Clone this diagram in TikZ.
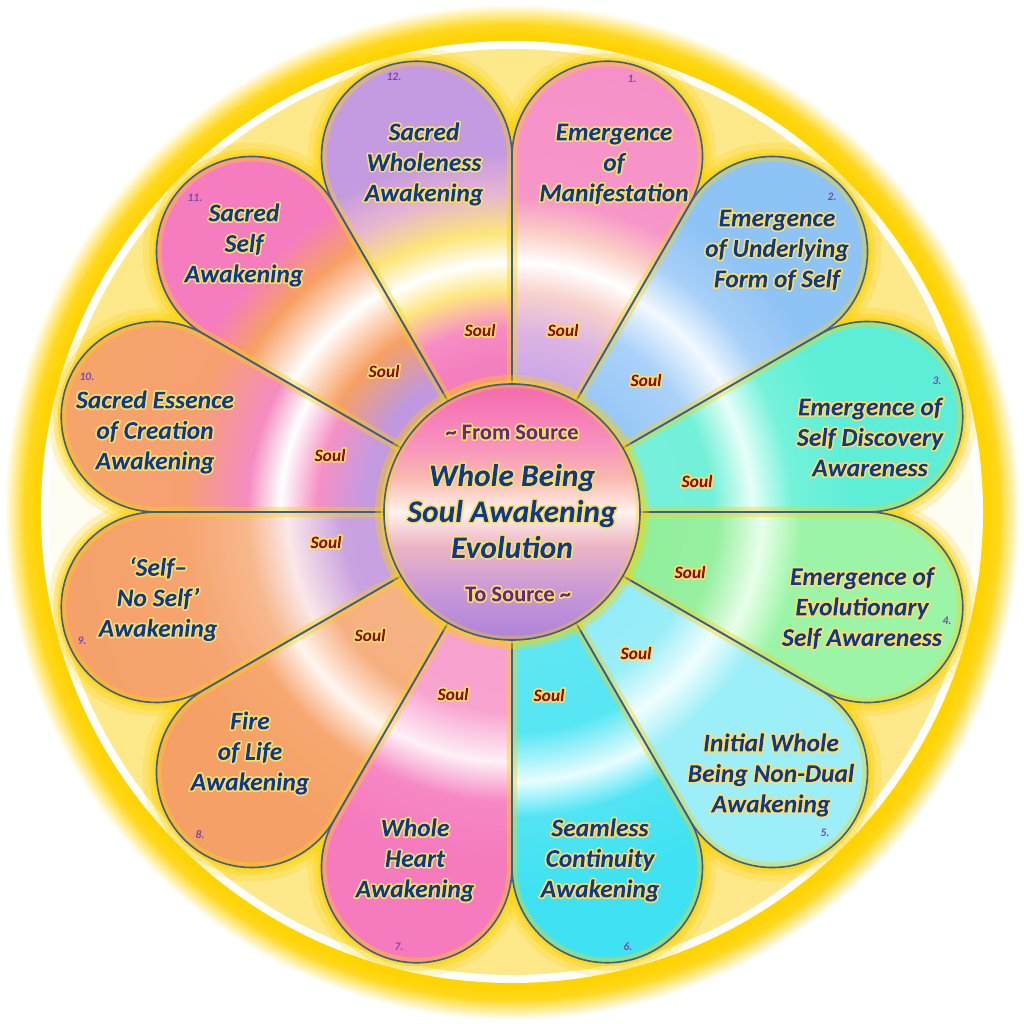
\documentclass[tikz,border=0pt]{standalone}
\usepackage{fontspec}
\setmainfont{Carlito}
\newcommand\dc[2]{\definecolor{#1}{HTML}{#2}}
\dc{gold}{FFD200}\dc{edgec}{3A5E8E}\dc{labc}{0B3A8E}\dc{soulc}{8A0F12}
\dc{numc}{7E48B0}\dc{ctrc}{5E2B8C}
\dc{pAa}{C9A5EA}\dc{pAb}{DCB4E2}\dc{pAc}{F8D2CC}\dc{pAd}{FAD0C6}\dc{pAe}{F796C8}\dc{pAf}{F590C8}
\dc{pBa}{96C6F6}\dc{pBb}{AAD2FA}\dc{pBc}{F2F8FF}\dc{pBd}{A8D0F8}\dc{pBe}{8EC3F6}
\dc{pCa}{78F0DC}\dc{pCb}{72F0D8}\dc{pCc}{E6FFF8}\dc{pCd}{74F2DA}\dc{pCe}{5EEED8}
\dc{pDa}{90EE9A}\dc{pDb}{96F0A0}\dc{pDc}{E8FFEA}\dc{pDd}{9CF4A6}
\dc{pEa}{92ECF8}\dc{pEb}{9AEEF8}\dc{pEc}{F0FEFF}\dc{pEd}{9CEFF8}
\dc{pFa}{60E6F2}\dc{pFb}{56E6F4}\dc{pFc}{E8FDFF}\dc{pFd}{52E4F4}\dc{pFe}{3EE2F2}
\dc{pGa}{F7A2CE}\dc{pGb}{F8A4D0}\dc{pGc}{FDF0F6}\dc{pGd}{F688C4}\dc{pGe}{F57BBE}
\dc{pHa}{F5B384}\dc{pHb}{F6B080}\dc{pHc}{FFF6F0}\dc{pHd}{F6A870}\dc{pHe}{F5A066}
\dc{pIa}{C6A0E2}\dc{pIb}{C9A2E0}\dc{pIc}{FBE8E8}\dc{pId}{F7B88C}\dc{pIe}{F6A470}\dc{pIf}{F5A068}
\dc{pJa}{C098E0}\dc{pJb}{C59AE0}\dc{pJc}{F590C4}\dc{pJd}{F58CC2}\dc{pJe}{F6A070}\dc{pJf}{F5A66A}
\dc{pKa}{C197E0}\dc{pKb}{F7A063}\dc{pKc}{F57DBF}
\dc{pLa}{F47FBE}\dc{pLb}{F68CC6}\dc{pLc}{FDE680}\dc{pLd}{FCE67A}\dc{pLe}{E6B4D2}\dc{pLf}{C49AE0}
\dc{cA}{AE82DA}\dc{cB}{C898D8}\dc{cC}{ECB4C4}\dc{cD}{FFF2EA}\dc{cE}{F9B8B0}\dc{cF}{F890BE}\dc{cG}{F36AAE}
\dc{by}{FDE88A}\dc{bw}{FFFCF2}
\dc{go}{FFD400}\dc{gB}{FFD820}\dc{gC}{FFEC90}
\pgfdeclareradialshading{pA}{\pgfpointorigin}{color(0bp)=(pAa); color(6.67bp)=(pAa); color(9.38bp)=(pAb); color(11.46bp)=(pAc); color(13.02bp)=(white); color(14.58bp)=(pAd); color(16.41bp)=(pAe); color(25bp)=(pAf); color(50bp)=(pAf)}
\pgfdeclareradialshading{pB}{\pgfpointorigin}{color(0bp)=(pBa); color(6.67bp)=(pBa); color(10.42bp)=(pBb); color(12.76bp)=(pBc); color(14.84bp)=(pBd); color(17.7bp)=(pBe); color(50bp)=(pBe)}
\pgfdeclareradialshading{pC}{\pgfpointorigin}{color(0bp)=(pCa); color(6.67bp)=(pCa); color(10.42bp)=(pCb); color(12.5bp)=(pCc); color(14.58bp)=(pCd); color(17.7bp)=(pCe); color(50bp)=(pCe)}
\pgfdeclareradialshading{pD}{\pgfpointorigin}{color(0bp)=(pDa); color(6.67bp)=(pDa); color(10.68bp)=(pDb); color(13.02bp)=(pDc); color(15.1bp)=(pDd); color(50bp)=(pDd)}
\pgfdeclareradialshading{pE}{\pgfpointorigin}{color(0bp)=(pEa); color(6.67bp)=(pEa); color(9.9bp)=(pEb); color(12.24bp)=(pEc); color(14.32bp)=(pEd); color(50bp)=(pEd)}
\pgfdeclareradialshading{pF}{\pgfpointorigin}{color(0bp)=(pFa); color(6.67bp)=(pFa); color(11.46bp)=(pFb); color(14.06bp)=(pFc); color(15.9bp)=(pFd); color(20bp)=(pFe); color(50bp)=(pFe)}
\pgfdeclareradialshading{pG}{\pgfpointorigin}{color(0bp)=(pGa); color(6.67bp)=(pGa); color(10.42bp)=(pGb); color(13.02bp)=(pGc); color(15.1bp)=(pGd); color(18bp)=(pGe); color(50bp)=(pGe)}
\pgfdeclareradialshading{pH}{\pgfpointorigin}{color(0bp)=(pHa); color(6.67bp)=(pHa); color(10.68bp)=(pHb); color(13.02bp)=(pHc); color(15.1bp)=(pHd); color(19bp)=(pHe); color(50bp)=(pHe)}
\pgfdeclareradialshading{pI}{\pgfpointorigin}{color(0bp)=(pIa); color(6.67bp)=(pIa); color(8.85bp)=(pIb); color(11.72bp)=(pIc); color(13.8bp)=(pId); color(17.2bp)=(pIe); color(25bp)=(pIf); color(50bp)=(pIf)}
\pgfdeclareradialshading{pJ}{\pgfpointorigin}{color(0bp)=(pJa); color(6.67bp)=(pJa); color(7.8bp)=(pJb); color(10.16bp)=(pJc); color(12.08bp)=(white); color(13.8bp)=(pJd); color(17.19bp)=(pJe); color(25bp)=(pJf); color(50bp)=(pJf)}
\pgfdeclareradialshading{pK}{\pgfpointorigin}{color(0bp)=(pKa); color(7.8bp)=(pKa); color(10.68bp)=(pKb); color(13.28bp)=(white); color(15.89bp)=(pKb); color(18.23bp)=(pKc); color(50bp)=(pKc)}
\pgfdeclareradialshading{pL}{\pgfpointorigin}{color(0bp)=(pLa); color(7.8bp)=(pLa); color(9.64bp)=(pLb); color(11.56bp)=(pLc); color(13.02bp)=(white); color(14.58bp)=(pLd); color(16.67bp)=(pLe); color(18.75bp)=(pLf); color(50bp)=(pLf)}
\pgfdeclareradialshading{og}{\pgfpointorigin}{color(0bp)=(go); color(23.2bp)=(go); color(23.8bp)=(gB); color(24.3bp)=(gC); color(24.8bp)=(white); color(50bp)=(white)}
\pgfdeclareverticalshading{cen}{100bp}{color(0bp)=(cA); color(25bp)=(cA); color(34.4bp)=(cB); color(43.2bp)=(cC); color(50bp)=(cD); color(56.8bp)=(cE); color(63.7bp)=(cF); color(75bp)=(cG); color(100bp)=(cG)}
\pgfdeclareverticalshading{bg}{100bp}{color(0bp)=(by); color(41.9bp)=(by); color(45.1bp)=(bw); color(54.9bp)=(bw); color(58.1bp)=(by); color(100bp)=(by)}
\newcommand\petal[1]{({#1-15}:120) -- ({#1-15}:355.5) arc[start angle={#1-105}, end angle={#1+105}, radius=95.25] -- ({#1+15}:120) -- cycle}
% text with a gold halo, one text object: stroke (gold) + clip, then fill the glyph clip in the text colour
\newcommand\glw[1]{\leavevmode\special{pdf:literal direct q 5 Tr 3.4 w 1 J 1 j 1 0.87 0.40 RG}#1\special{pdf:literal direct 0 Tr -6000 -6000 12000 12000 re f Q}}
\begin{document}
\begin{tikzpicture}[x=1pt,y=1pt,
  edge/.style={draw=edgec, line width=1.6pt, line join=round},
  lab/.style={text=labc, font=\fontsize{25.5}{30.5}\selectfont\bfseries\itshape, align=center, inner sep=0pt},
  big/.style={text=labc, font=\fontsize{31.5}{36}\selectfont\bfseries\itshape, align=center, inner sep=0pt},
  ctr/.style={text=ctrc, font=\fontsize{22.5}{26}\selectfont\bfseries, inner sep=0pt},
  soul/.style={text=soulc, font=\fontsize{17.5}{20}\selectfont\bfseries\itshape, inner sep=0pt},
  num/.style={text=numc, font=\fontsize{11.5}{12}\selectfont\bfseries\itshape, inner sep=0pt}]
\useasboundingbox (-512,-512) rectangle (512,512);
\fill[white] (-512,-512) rectangle (512,512);
\shade[shading=og] (0,0) circle (512);
\fill[white] (0,0) circle (471);
\shade[shading=bg] (0,0) circle (463);
% petal glows
\foreach \a in {75,45,15,-15,-45,-75,-105,-135,-165,165,135,105}{
  \draw[gold, line width=28, opacity=.22, line join=round] \petal{\a};
  \draw[gold, line width=16, opacity=.35, line join=round] \petal{\a};
  \draw[gold, line width=7, opacity=.6, line join=round] \petal{\a};
}
% petal fills
\foreach \a/\s in {75/pA,45/pB,15/pC,-15/pD,-45/pE,-75/pF,-105/pG,-135/pH,-165/pI,165/pJ,135/pK,105/pL}{
  \begin{scope}
    \clip \petal{\a};
    \shade[shading=\s] (0,0) circle (480);
    \draw[gold, line width=10, opacity=.4] \petal{\a};
  \end{scope}
}
\foreach \a in {75,45,15,-15,-45,-75,-105,-135,-165,165,135,105}{
  \draw[edge] \petal{\a};
}
% hub
\draw[gold, line width=18, opacity=.35] (0,0) circle (128);
\draw[gold, line width=7, opacity=.6] (0,0) circle (128);
\shade[shading=cen] (0,0) circle (128);
\begin{scope}
  \clip (0,0) circle (128);
  \draw[gold, line width=8, opacity=.35] (0,0) circle (128);
\end{scope}
\draw[edge] (0,0) circle (128);
% hub text
\node[ctr] (from) at (0,80) {\glw{\textasciitilde\ From Source}};
\node[big] (main) at (0,1) {\glw{Whole Being}\\\glw{Soul Awakening}\\\glw{Evolution}};
\node[ctr] (to) at (6,-82) {\glw{To Source \textasciitilde}};
% petal texts
\node[lab] (t1) at (102,348) {\glw{Emergence}\\\glw{of}\\\glw{Manifestation}};
\node[lab] (t2) at (265,262) {\glw{Emergence}\\\glw{of Underlying}\\\glw{Form of Self}};
\node[lab] (t3) at (358,75) {\glw{Emergence of}\\\glw{Self Discovery}\\\glw{Awareness}};
\node[lab] (t4) at (350,-96) {\glw{Emergence of}\\\glw{Evolutionary}\\\glw{Self Awareness}};
\node[lab] (t5) at (259,-263) {\glw{Initial Whole}\\\glw{Being Non-Dual}\\\glw{Awakening}};
\node[lab] (t6) at (88,-348) {\glw{Seamless}\\\glw{Continuity}\\\glw{Awakening}};
\node[lab] (t7) at (-97,-348) {\glw{Whole}\\\glw{Heart}\\\glw{Awakening}};
\node[lab] (t8) at (-262,-241) {\glw{Fire}\\\glw{of Life}\\\glw{Awakening}};
\node[lab] (t9) at (-354,-87) {\glw{‘Self–}\\\glw{No Self’}\\\glw{Awakening}};
\node[lab] (t10) at (-357,80) {\glw{Sacred Essence}\\\glw{of Creation}\\\glw{Awakening}};
\node[lab] (t11) at (-268,267) {\glw{Sacred}\\\glw{Self}\\\glw{Awakening}};
\node[lab] (t12) at (-88,348) {\glw{Sacred}\\\glw{Wholeness}\\\glw{Awakening}};
% numbers
\node[num] (n1) at (120,433) {1.};
\node[num] (n2) at (320,315) {2.};
\node[num] (n3) at (425,131) {3.};
\node[num] (n4) at (435,-109) {4.};
\node[num] (n5) at (313,-321) {5.};
\node[num] (n6) at (116,-435) {6.};
\node[num] (n7) at (-113,-435) {7.};
\node[num] (n8) at (-312,-323) {8.};
\node[num] (n9) at (-430,-129) {9.};
\node[num] (n10) at (-425,135) {10.};
\node[num] (n11) at (-317,314) {11.};
\node[num] (n12) at (-118,435) {12.};
% soul labels
\node[soul] (s1) at (51,182) {\glw{Soul}};
\node[soul] (s2) at (134,132) {\glw{Soul}};
\node[soul] (s3) at (185,31) {\glw{Soul}};
\node[soul] (s4) at (178,-60) {\glw{Soul}};
\node[soul] (s5) at (124,-141) {\glw{Soul}};
\node[soul] (s6) at (37,-183) {\glw{Soul}};
\node[soul] (s7) at (-59,-182) {\glw{Soul}};
\node[soul] (s8) at (-142,-123) {\glw{Soul}};
\node[soul] (s9) at (-186,-30) {\glw{Soul}};
\node[soul] (s10) at (-182,57) {\glw{Soul}};
\node[soul] (s11) at (-128,141) {\glw{Soul}};
\node[soul] (s12) at (-32,182) {\glw{Soul}};
\end{tikzpicture}
\end{document}
